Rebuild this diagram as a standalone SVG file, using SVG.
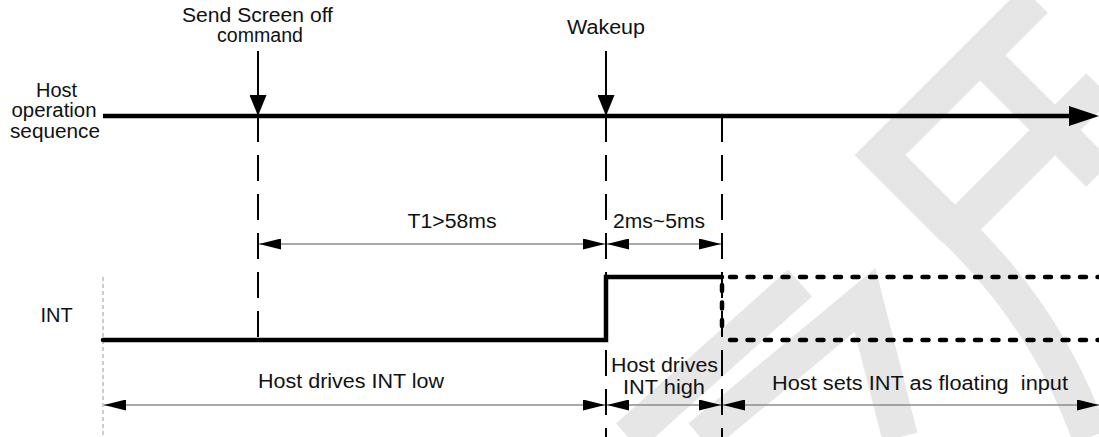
<svg xmlns="http://www.w3.org/2000/svg" width="1099" height="437" viewBox="0 0 1099 437">
<defs>
<marker id="dim" viewBox="0 0 22 11" refX="22" refY="5.5" markerWidth="22" markerHeight="11" markerUnits="userSpaceOnUse" orient="auto-start-reverse"><path d="M0,0 L22,5.5 L0,11 Z" fill="#000"/></marker>
<marker id="evt" viewBox="0 0 21 17" refX="21" refY="8.5" markerWidth="21" markerHeight="17" markerUnits="userSpaceOnUse" orient="auto"><path d="M0,0 L21,8.5 L0,17 Z" fill="#000"/></marker>
<marker id="axis" viewBox="0 0 30 20" refX="6" refY="10" markerWidth="30" markerHeight="20" markerUnits="userSpaceOnUse" orient="auto"><path d="M0,0 L30,10 L0,20 Z" fill="#000"/></marker>
</defs>
<style>
text{font-family:"Liberation Sans",Arial,sans-serif;font-size:20px;fill:#111;text-anchor:middle}
.guide{stroke:#000;stroke-width:2;stroke-dasharray:26 13;fill:none}
.dim{stroke:#8c8c8c;stroke-width:1.4;fill:none;marker-start:url(#dim);marker-end:url(#dim)}
.sig{stroke:#000;stroke-width:4.5;fill:none}
.float{stroke:#000;stroke-width:4.5;stroke-dasharray:6 11.5;stroke-linecap:round;fill:none}
.wm{stroke:#e6e6e6;fill:none;stroke-width:36}
</style>
<g id="watermark" class="wm">
<polyline points="1035,0 880,155 955,230"/>
<polyline points="980,55 1099,174"/>
<polyline points="1099,86 955,230"/>
<path d="M940,215 Q1045,310 1090,437"/>
<path d="M628,437 L800,283"/>
<path d="M700,437 L865,300 L900,437"/>
</g>
<g id="connectors">
<line x1="103" y1="116" x2="1075" y2="116" stroke="#000" stroke-width="4.5" marker-end="url(#axis)"/>
<line x1="258" y1="51" x2="258" y2="116" stroke="#000" stroke-width="2" marker-end="url(#evt)"/>
<line x1="606" y1="51" x2="606" y2="116" stroke="#000" stroke-width="2" marker-end="url(#evt)"/>
<line class="guide" x1="258" y1="116" x2="258" y2="338"/>
<line class="guide" x1="606" y1="116" x2="606" y2="437"/>
<line class="guide" x1="722" y1="116" x2="722" y2="437"/>
<line x1="103" y1="277" x2="103" y2="437" stroke="#999" stroke-width="1" stroke-dasharray="4 3"/>
<line class="dim" x1="259" y1="244" x2="605" y2="244"/>
<line class="dim" x1="607" y1="244" x2="721" y2="244"/>
<line class="dim" x1="104" y1="405" x2="605" y2="405"/>
<line class="dim" x1="607" y1="405" x2="721" y2="405"/>
<line class="dim" x1="723" y1="405" x2="1099" y2="405"/>
</g>
<g id="int-signal">
<path class="sig" d="M103,340 H606 V277 H722" stroke-linecap="round"/>
<path class="float" d="M730,277 H1099 M730,340 H1099 M722,285 V334"/>
</g>
<g id="label-send"><text x="257.5" y="22" textLength="151" lengthAdjust="spacingAndGlyphs">Send Screen off</text><text x="260" y="42" textLength="86" lengthAdjust="spacingAndGlyphs">command</text></g>
<g id="label-wakeup"><text x="606" y="34" textLength="78" lengthAdjust="spacingAndGlyphs">Wakeup</text></g>
<g id="label-host"><text x="56.5" y="97">Host</text><text x="54" y="117" textLength="85" lengthAdjust="spacingAndGlyphs">operation</text><text x="55" y="138" textLength="90" lengthAdjust="spacingAndGlyphs">sequence</text></g>
<g id="label-int"><text x="56.5" y="322">INT</text></g>
<g id="label-t1"><text x="452" y="228" textLength="89" lengthAdjust="spacingAndGlyphs">T1&gt;58ms</text></g>
<g id="label-t2"><text x="659" y="228" textLength="92" lengthAdjust="spacingAndGlyphs">2ms~5ms</text></g>
<g id="label-low"><text x="351" y="388" textLength="186" lengthAdjust="spacingAndGlyphs">Host drives INT low</text></g>
<g id="label-high"><text x="664.5" y="372" textLength="107" lengthAdjust="spacingAndGlyphs">Host drives</text><text x="664" y="394" textLength="82" lengthAdjust="spacingAndGlyphs">INT high</text></g>
<g id="label-float"><text x="920" y="390" xml:space="preserve" textLength="296" lengthAdjust="spacingAndGlyphs">Host sets INT as floating  input</text></g>
</svg>
